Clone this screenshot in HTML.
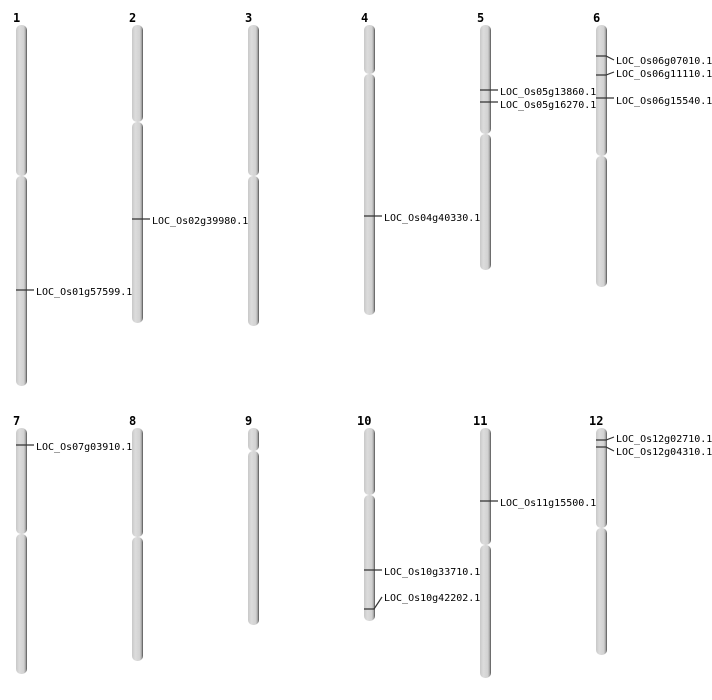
<!DOCTYPE html>
<html><head><style>body{margin:0;background:#fff}svg{display:block}</style></head><body>
<svg width="712" height="700" xmlns="http://www.w3.org/2000/svg" font-family="'DejaVu Sans Mono','Liberation Mono',monospace">
<defs>
<linearGradient id="g" x1="0" x2="1" y1="0" y2="0">
<stop offset="0" stop-color="#c8c8c8"/><stop offset="0.3" stop-color="#dcdcdc"/><stop offset="0.7" stop-color="#d2d2d2"/><stop offset="0.85" stop-color="#b0b0b0"/><stop offset="1" stop-color="#505050"/>
</linearGradient>
</defs>
<g fill="url(#g)">
<rect x="16" y="25" width="11" height="151" rx="5"/><rect x="16" y="176" width="11" height="210" rx="5"/>
<rect x="132" y="25" width="11" height="97" rx="5"/><rect x="132" y="122" width="11" height="201" rx="5"/>
<rect x="248" y="25" width="11" height="151" rx="5"/><rect x="248" y="176" width="11" height="150" rx="5"/>
<rect x="364" y="25" width="11" height="49" rx="5"/><rect x="364" y="74" width="11" height="241" rx="5"/>
<rect x="480" y="25" width="11" height="109" rx="5"/><rect x="480" y="134" width="11" height="136" rx="5"/>
<rect x="596" y="25" width="11" height="131" rx="5"/><rect x="596" y="156" width="11" height="131" rx="5"/>
<rect x="16" y="428" width="11" height="106" rx="5"/><rect x="16" y="534" width="11" height="140" rx="5"/>
<rect x="132" y="428" width="11" height="109" rx="5"/><rect x="132" y="537" width="11" height="124" rx="5"/>
<rect x="248" y="428" width="11" height="23" rx="5"/><rect x="248" y="451" width="11" height="174" rx="5"/>
<rect x="364" y="428" width="11" height="67" rx="5"/><rect x="364" y="495" width="11" height="126" rx="5"/>
<rect x="480" y="428" width="11" height="117" rx="5"/><rect x="480" y="545" width="11" height="133" rx="5"/>
<rect x="596" y="428" width="11" height="100" rx="5"/><rect x="596" y="528" width="11" height="127" rx="5"/>
</g>
<g font-size="12" font-weight="bold" fill="#000">
<text x="13" y="22">1</text><text x="129" y="22">2</text><text x="245" y="22">3</text><text x="361" y="22">4</text><text x="477" y="22">5</text><text x="593" y="22">6</text>
<text x="13" y="425">7</text><text x="129" y="425">8</text><text x="245" y="425">9</text><text x="357" y="425">10</text><text x="473" y="425">11</text><text x="589" y="425">12</text>
</g>
<g stroke="#333" stroke-width="1.2" fill="none">
<path d="M16 290H34"/><path d="M132 219H150"/><path d="M364 216H382"/>
<path d="M480 90H498"/><path d="M480 102H498"/>
<path d="M596 56H606L614 60"/><path d="M596 75H606L614 72"/><path d="M596 98H614"/>
<path d="M16 445H34"/><path d="M364 570H382"/><path d="M364 609H374L382 597"/><path d="M480 501H498"/>
<path d="M596 440H606L614 437"/><path d="M596 447H606L614 451"/>
</g>
<g font-size="10" fill="#000">
<text x="36" y="295">LOC_Os01g57599.1</text>
<text x="152" y="224">LOC_Os02g39980.1</text>
<text x="384" y="221">LOC_Os04g40330.1</text>
<text x="500" y="95">LOC_Os05g13860.1</text>
<text x="500" y="108">LOC_Os05g16270.1</text>
<text x="616" y="64">LOC_Os06g07010.1</text>
<text x="616" y="77">LOC_Os06g11110.1</text>
<text x="616" y="104">LOC_Os06g15540.1</text>
<text x="36" y="450">LOC_Os07g03910.1</text>
<text x="384" y="575">LOC_Os10g33710.1</text>
<text x="384" y="601">LOC_Os10g42202.1</text>
<text x="500" y="506">LOC_Os11g15500.1</text>
<text x="616" y="442">LOC_Os12g02710.1</text>
<text x="616" y="455">LOC_Os12g04310.1</text>
</g>
</svg>
</body></html>
